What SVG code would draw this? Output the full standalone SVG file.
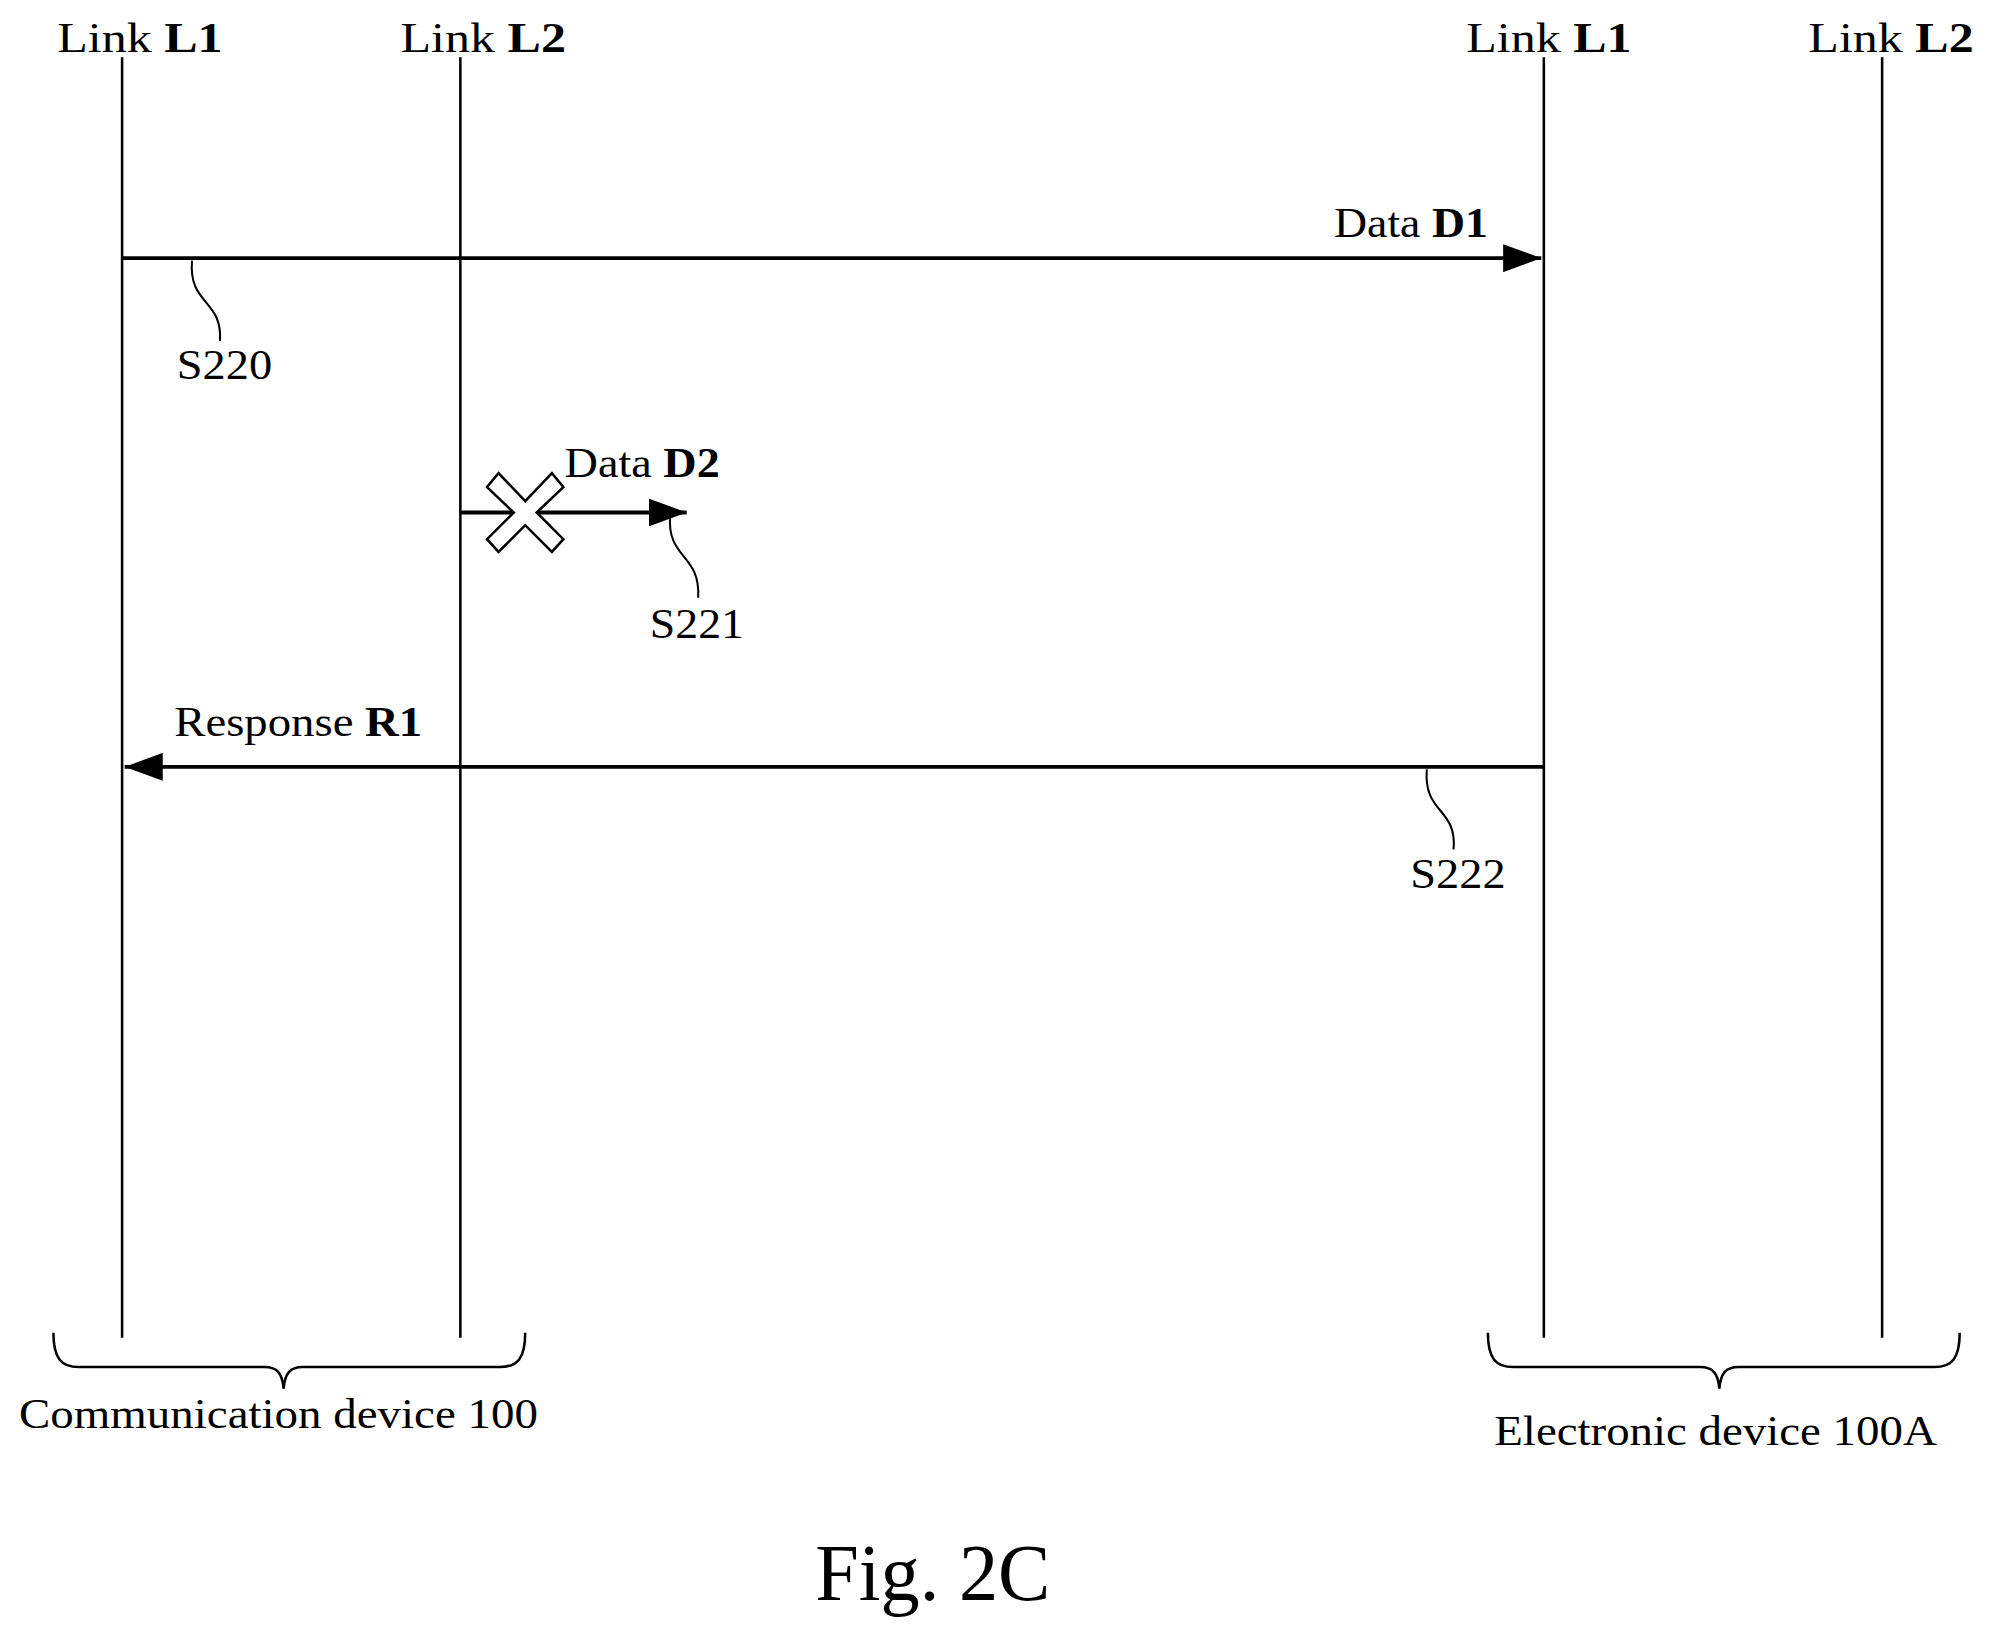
<svg xmlns="http://www.w3.org/2000/svg" width="1994" height="1638" viewBox="0 0 1994 1638">
<style>
text{font-family:"Liberation Serif","Times New Roman",serif;font-size:34px;fill:#000}
.b{font-weight:bold}
.life{stroke:#000;stroke-width:2;fill:none}
.msg{stroke:#000;stroke-width:3;fill:none}
.lead{stroke:#000;stroke-width:1.6;fill:none}
</style>
<defs>
<marker id="ah" viewBox="0 0 30 22" refX="30" refY="11" markerWidth="30" markerHeight="22" markerUnits="userSpaceOnUse" orient="auto">
<path d="M0,0 L30,11 L0,22 Z" fill="#000"/>
</marker>
</defs>
<rect width="1994" height="1638" fill="#fff"/>
<g transform="scale(1.2717)">
<g id="lifelines">
<line class="life" x1="96" y1="45" x2="96" y2="1052"/>
<line class="life" x1="362" y1="45" x2="362" y2="1052"/>
<line class="life" x1="1214" y1="45" x2="1214" y2="1052"/>
<line class="life" x1="1480" y1="45" x2="1480" y2="1052"/>
<text x="45" y="41" textLength="130" lengthAdjust="spacingAndGlyphs">Link  <tspan class="b">L1</tspan></text>
<text x="315" y="41" textLength="130" lengthAdjust="spacingAndGlyphs">Link  <tspan class="b">L2</tspan></text>
<text x="1153" y="41" textLength="130" lengthAdjust="spacingAndGlyphs">Link  <tspan class="b">L1</tspan></text>
<text x="1422" y="41" textLength="130" lengthAdjust="spacingAndGlyphs">Link  <tspan class="b">L2</tspan></text>
</g>
<g id="connectors">
<line class="msg" x1="96" y1="203" x2="1212" y2="203" marker-end="url(#ah)"/>
<line class="msg" x1="362" y1="403" x2="540" y2="403" marker-end="url(#ah)"/>
<line class="msg" x1="1214" y1="603" x2="98" y2="603" marker-end="url(#ah)"/>
</g>
<g id="labels">
<text x="1049" y="186" textLength="121" lengthAdjust="spacingAndGlyphs">Data <tspan class="b">D1</tspan></text>
<text x="444" y="375" textLength="122" lengthAdjust="spacingAndGlyphs">Data <tspan class="b">D2</tspan></text>
<text x="137" y="579" textLength="195" lengthAdjust="spacingAndGlyphs">Response <tspan class="b">R1</tspan></text>
<path class="lead" d="M151,205 C148,240 175,235 173,268"/>
<text x="139" y="298" textLength="75" lengthAdjust="spacingAndGlyphs">S220</text>
<path class="lead" d="M527,405 C524,440 551,435 549,470"/>
<text x="511" y="502" textLength="74" lengthAdjust="spacingAndGlyphs">S221</text>
<path class="lead" d="M1122,605 C1119,640 1146,635 1143,668"/>
<text x="1109" y="698" textLength="75" lengthAdjust="spacingAndGlyphs">S222</text>
</g>
<g id="cross">
<path d="M383,383 L392,372 L413,394 L434,372 L443,383 L422,403 L443,424 L434,434 L413,413 L392,434 L383,424 L404,403 Z" fill="#fff" stroke="#000" stroke-width="2"/>
</g>
<g id="braces">
<path class="life" d="M42,1048 C42,1068 48,1075 62,1075 L208,1075 C218,1075 222,1080 223,1092 C224,1080 228,1075 238,1075 L393,1075 C407,1075 413,1068 413,1048"/>
<path class="life" d="M1170,1048 C1170,1068 1176,1075 1190,1075 L1337,1075 C1347,1075 1351,1080 1352,1092 C1353,1080 1357,1075 1367,1075 L1521,1075 C1535,1075 1541,1068 1541,1048"/>
<text x="15" y="1123" textLength="408" lengthAdjust="spacingAndGlyphs">Communication device 100</text>
<text x="1175" y="1136" textLength="348" lengthAdjust="spacingAndGlyphs">Electronic device 100A</text>
</g>
<text x="641" y="1258" style="font-size:64px" textLength="185" lengthAdjust="spacingAndGlyphs">Fig. 2C</text>
</g>
</svg>
